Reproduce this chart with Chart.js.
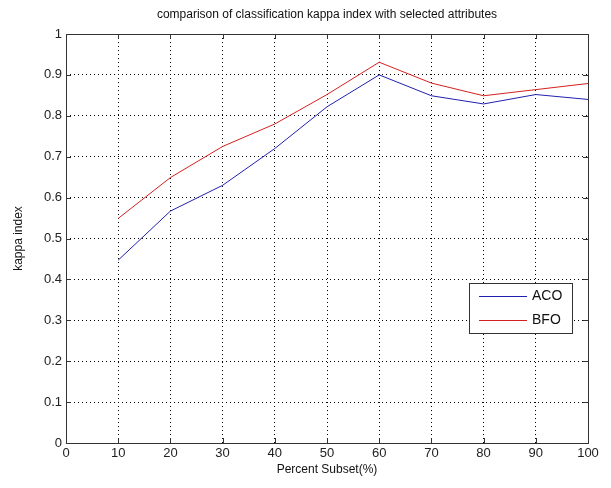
<!DOCTYPE html>
<html lang="en">
<head>
    <meta charset="UTF-8">
    <title>Kappa index comparison</title>
    <script src="https://cdn.jsdelivr.net/npm/chart.js"></script>
    <style>
        html, body { margin: 0; padding: 0; background: #fff; }
        #wrap { width: 611px; height: 488px; }
    </style>
</head>
<body>
    <div id="wrap"><canvas id="kappaChart" width="611" height="488"></canvas></div>

    <script>
        const subsets = [10, 20, 30, 40, 50, 60, 70, 80, 90, 100];
        const acoKappa = [0.447, 0.567, 0.630, 0.720, 0.822, 0.900, 0.849, 0.829, 0.852, 0.840];
        const bfoKappa = [0.549, 0.649, 0.725, 0.780, 0.852, 0.931, 0.880, 0.849, 0.864, 0.879];
        const xTicks = [0, 10, 20, 30, 40, 50, 60, 70, 80, 90, 100];
        const yTicks = [0, 0.1, 0.2, 0.3, 0.4, 0.5, 0.6, 0.7, 0.8, 0.9, 1];
        const chartTitle = 'comparison of classification kappa index with selected attributes';
        const acoColor = '#2020b0';
        const bfoColor = '#d42020';

        const font = 'Liberation Sans, Arial, sans-serif';

        // box, inward ticks, title and legend the way MATLAB draws them
        const matlabFrame = {
            id: 'matlabFrame',
            afterDraw(chart) {
                const { ctx, chartArea: a, scales } = chart;
                ctx.save();
                ctx.strokeStyle = '#333';
                ctx.lineWidth = 1;
                ctx.beginPath();
                xTicks.forEach(v => {
                    const px = Math.round(scales.x.getPixelForValue(v)) + 0.5;
                    ctx.moveTo(px, a.bottom); ctx.lineTo(px, a.bottom - 5);
                    ctx.moveTo(px, a.top); ctx.lineTo(px, a.top + 5);
                });
                yTicks.forEach(v => {
                    const py = Math.round(scales.y.getPixelForValue(v)) + 0.5;
                    ctx.moveTo(a.left, py); ctx.lineTo(a.left + 5, py);
                    ctx.moveTo(a.right, py); ctx.lineTo(a.right - 5, py);
                });
                ctx.stroke();
                ctx.strokeRect(Math.round(a.left) + 0.5, Math.round(a.top) + 0.5,
                    Math.round(a.right - a.left), Math.round(a.bottom - a.top));

                // title centred over the axes
                ctx.fillStyle = '#111';
                ctx.font = '12px ' + font;
                ctx.textAlign = 'center';
                ctx.textBaseline = 'middle';
                ctx.fillText(chartTitle, (a.left + a.right) / 2, 15);

                // legend box
                const lx = 469, ly = 283, lw = 103, lh = 50;
                ctx.fillStyle = '#fff';
                ctx.fillRect(lx, ly, lw, lh);
                ctx.strokeStyle = '#333';
                ctx.strokeRect(lx + 0.5, ly + 0.5, lw, lh);
                ctx.font = '14px ' + font;
                ctx.textAlign = 'left';
                chart.data.datasets.forEach((ds, i) => {
                    const yy = ly + 13 + i * 24 + 0.5;
                    ctx.strokeStyle = ds.borderColor;
                    ctx.beginPath();
                    ctx.moveTo(lx + 10, yy); ctx.lineTo(lx + 58, yy);
                    ctx.stroke();
                    ctx.fillStyle = '#111';
                    ctx.fillText(ds.label, lx + 63, yy);
                });
                ctx.restore();
            }
        };

        new Chart(document.getElementById('kappaChart').getContext('2d'), {
            type: 'line',
            data: {
                labels: subsets,
                datasets: [
                    { label: 'ACO', data: acoKappa, borderColor: acoColor, borderWidth: 1, pointRadius: 0, tension: 0, fill: false },
                    { label: 'BFO', data: bfoKappa, borderColor: bfoColor, borderWidth: 1, pointRadius: 0, tension: 0, fill: false }
                ]
            },
            options: {
                responsive: false,
                animation: false,
                layout: { padding: { left: 11, right: 23, top: 34, bottom: 11 } },
                plugins: {
                    legend: { display: false },
                    tooltip: { enabled: false },
                    title: { display: false }
                },
                scales: {
                    x: {
                        type: 'linear',
                        min: 0, max: 100,
                        afterBuildTicks: s => { s.ticks = xTicks.map(v => ({ value: v })); },
                        afterFit: s => { s.height = 34; },
                        grid: { color: '#000', lineWidth: 1, drawTicks: false },
                        border: { display: false, dash: [1, 3] },
                        ticks: { color: '#222', font: { family: font, size: 13 }, padding: 3, maxRotation: 0 },
                        title: { display: true, text: 'Percent Subset(%)', color: '#111', font: { family: font, size: 12 }, padding: { top: 0, bottom: 0 } }
                    },
                    y: {
                        min: 0, max: 1,
                        afterBuildTicks: s => { s.ticks = yTicks.map(v => ({ value: v })); },
                        afterFit: s => { s.width = 55; },
                        grid: { color: '#000', lineWidth: 1, drawTicks: false },
                        border: { display: false, dash: [1, 3] },
                        ticks: { color: '#222', font: { family: font, size: 13 }, padding: 4,
                            callback: v => String(v) },
                        title: { display: true, text: 'kappa index', color: '#111', font: { family: font, size: 12 }, padding: { top: 0, bottom: 4 } }
                    }
                }
            },
            plugins: [matlabFrame]
        });
    </script>
</body>
</html>
